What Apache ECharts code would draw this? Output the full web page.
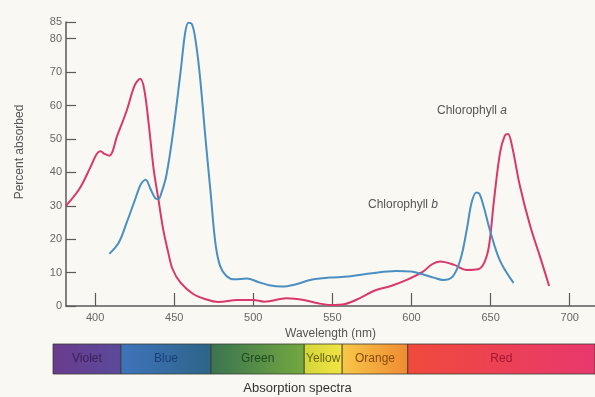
<!DOCTYPE html>
<html>
<head>
<meta charset="utf-8">
<script src="https://cdn.jsdelivr.net/npm/echarts@6/dist/echarts.min.js"></script>
<style>
html,body{margin:0;padding:0;background:#faf8f2;}
#c{width:595px;height:397px;}
</style>
</head>
<body>
<div id="c"></div>
<script>
// Chlorophyll a (wavelength nm, percent absorbed)
var aWavelengths = [381.6,390,397,401,403.5,406,409,414,420,425,428.5,431,434,437,440,443,446,449,454,462,470,478,490,500,507,521,532,541,549,558,568,576,587,597,607,613,618,627,635,642,646,649,652,656,659,661,663.5,668.5,675,681.5,687];
var aValues      = [30,35,41.5,45.5,46.3,45.5,45,51,58.5,66,68,65,54,41,32,23,16.5,11,7,3.6,2,1.2,1.8,1.8,1.3,2.3,1.8,0.8,0.3,0.6,2.5,4.5,6,7.8,10.2,12.5,13.3,12.3,10.8,11,13,18,31,46,51,51.5,48,36,24,14.4,6];
// Chlorophyll b
var bWavelengths = [409,415,420,425,429,432,435,438,440,442,445,449,454,457,459,461,463,466,470,473,476,479,483,488,496,503,510,518,527,536,548,560,575,590,600,607,614,620,626,631,635,638,641,643,645.5,650,656,664.5];
var bValues      = [15.6,19,25,31.5,36.5,37.8,35,32.3,32,34,39,51,70,82,84.8,84.5,81,70,49,34,19,12,9,8,8.2,7.2,6.2,5.8,6.5,7.8,8.5,8.8,9.8,10.5,10.3,9.5,8.5,7.8,8.8,14,23,31,34,33.5,30,22,13.5,6.9];
// Tick labels
var xTicks = [400,450,500,550,600,650,700];
var yTicks = [0,10,20,30,40,50,60,70,80,85];
// Spectrum bands
var bandNames  = ['Violet','Blue','Green','Yellow','Orange','Red'];
var bandStarts = [373,416,473,532,556,597.5];
var bandEnds   = [416,473,532,556,597.5,716];

var bandColors = [
  ['#6a3b8e','#5a4a9a'],
  ['#3f74bc','#2d6488'],
  ['#3a7450','#74a83e'],
  ['#d4d63a','#f2e444'],
  ['#f6c848','#f08a32'],
  ['#f04a3c','#e8386e']
];
var bandText = ['#3d1d5a','#1d3f78','#1e4a22','#6a6410','#8a4a08','#a01830'];

function pairs(xs, ys){ return xs.map(function(x,i){ return [x, ys[i]]; }); }

var chart = echarts.init(document.getElementById('c'));
var fontFam = '"Liberation Sans", Arial, sans-serif';
chart.setOption({
  backgroundColor: '#faf8f2',
  animation: false,
  grid: [
    {left: 66, right: 0, top: 22, bottom: 91},
    {left: 53, right: 0, top: 344, height: 30}
  ],
  xAxis: [{
    type: 'value', gridIndex: 0, min: 381.6, max: 716,
    name: 'Wavelength (nm)', nameLocation: 'middle', nameGap: 20,
    nameTextStyle: {color: '#555', fontSize: 12, fontFamily: fontFam},
    axisLine: {lineStyle: {color: '#5a5a5a', width: 1.5}},
    axisTick: {inside: true, length: 13, lineStyle: {color: '#5a5a5a', width: 1.2}, customValues: xTicks},
    axisLabel: {color: '#666', fontSize: 11, fontFamily: fontFam, margin: 6, customValues: xTicks},
    splitLine: {show: false}
  }, {
    type: 'value', gridIndex: 1, min: 373, max: 716, show: false
  }],
  yAxis: [{
    type: 'value', gridIndex: 0, min: 0, max: 85,
    name: 'Percent absorbed', nameLocation: 'middle', nameGap: 40,
    nameTextStyle: {color: '#555', fontSize: 12, fontFamily: fontFam, padding: [0, 0, 0, 24]},
    axisLine: {show: true, lineStyle: {color: '#5a5a5a', width: 1.5}},
    axisTick: {show: true, inside: true, length: 10, lineStyle: {color: '#5a5a5a', width: 1.2}, customValues: yTicks},
    axisLabel: {color: '#666', fontSize: 11, fontFamily: fontFam, margin: 4, customValues: yTicks},
    splitLine: {show: false}
  }, {
    type: 'value', gridIndex: 1, min: 0, max: 1, show: false
  }],
  series: [{
    name: 'Chlorophyll a', type: 'line', xAxisIndex: 0, yAxisIndex: 0,
    data: pairs(aWavelengths, aValues), smooth: 0.35, showSymbol: false,
    lineStyle: {color: '#d8386c', width: 2}
  }, {
    name: 'Chlorophyll b', type: 'line', xAxisIndex: 0, yAxisIndex: 0,
    data: pairs(bWavelengths, bValues), smooth: 0.35, showSymbol: false,
    lineStyle: {color: '#4a8fc2', width: 2}
  }, {
    type: 'custom', xAxisIndex: 1, yAxisIndex: 1,
    data: bandNames.map(function(n,i){ return [bandStarts[i], bandEnds[i], i]; }),
    renderItem: function(params, api){
      var i = api.value(2);
      var p0 = api.coord([api.value(0), 1]);
      var p1 = api.coord([api.value(1), 0]);
      return {
        type: 'group',
        children: [{
          type: 'rect',
          shape: {x: p0[0], y: p0[1], width: p1[0]-p0[0], height: p1[1]-p0[1]},
          style: {
            fill: new echarts.graphic.LinearGradient(0,0,1,0,[
              {offset:0,color:bandColors[i][0]},{offset:1,color:bandColors[i][1]}]),
            stroke: '#3a3a30', lineWidth: 0.8
          }
        }, {
          type: 'text',
          style: {
            text: bandNames[i], x: (p0[0]+p1[0])/2, y: (p0[1]+p1[1])/2,
            align: 'center', verticalAlign: 'middle',
            fill: bandText[i], fontSize: 12, fontFamily: fontFam
          }
        }]
      };
    }
  }],
  graphic: [{
    type: 'text', left: 437, top: 105,
    style: {text: 'Chlorophyll {i|a}', fill: '#555', fontSize: 12, fontFamily: fontFam,
      rich: {i: {fontStyle: 'italic', fontSize: 12, fill: '#555', fontFamily: fontFam}}}
  }, {
    type: 'text', left: 368, top: 199,
    style: {text: 'Chlorophyll {i|b}', fill: '#555', fontSize: 12, fontFamily: fontFam,
      rich: {i: {fontStyle: 'italic', fontSize: 12, fill: '#555', fontFamily: fontFam}}}
  }, {
    type: 'text', left: 'center', top: 382,
    style: {text: 'Absorption spectra', fill: '#333', fontSize: 13, fontFamily: fontFam}
  }]
});
</script>
</body>
</html>
